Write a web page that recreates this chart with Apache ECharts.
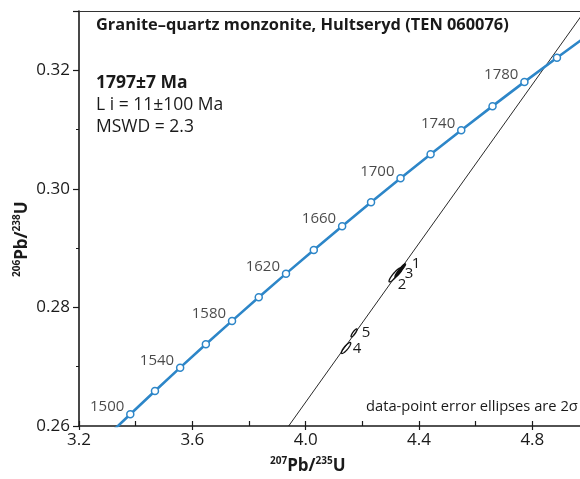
<!DOCTYPE html>
<html><head><meta charset="utf-8">
<script src="https://cdn.jsdelivr.net/npm/echarts@6/dist/echarts.min.js"></script>
<style>html,body{margin:0;padding:0;background:#fff;overflow:hidden}#c{width:600px;height:479px}</style>
</head><body><div id="c"></div>
<script>
// Concordia points (age in Ma, 207Pb/235U, 206Pb/238U)
const concAges = [1480,1500,1520,1540,1560,1580,1600,1620,1640,1660,1680,1700,1720,1740,1760,1780,1800,1820];
const concX = [3.2956,3.3810,3.4681,3.5570,3.6477,3.7401,3.8344,3.9306,4.0287,4.1287,4.2307,4.3348,4.4409,4.5491,4.6595,4.7721,4.8869,5.0040];
const concY = [0.25810,0.26199,0.26591,0.26984,0.27378,0.27773,0.28172,0.28570,0.28970,0.29371,0.29774,0.30178,0.30583,0.30988,0.31395,0.31804,0.32211,0.32621];
const labelledAges = [1500,1540,1580,1620,1660,1700,1740,1780];
// Discordia end points
const discX = [3.94, 5.00];
const discY = [0.2600, 0.3310];
// Error ellipses: id, centre x, centre y, half-range x, half-range y, correlation
const ellId = ['2','3','1','4','5'];
const ellX = [4.3154,4.3295,4.3401,4.1425,4.1707];
const ellY = [0.28549,0.28599,0.28667,0.27316,0.27570];
const ellA = [0.0212,0.0141,0.0124,0.0166,0.0106];
const ellB = [0.00118,0.00084,0.00068,0.00093,0.00068];
const ellR = [0.90,0.90,0.90,0.86,0.86];
// Axis ticks
const xTicks = [3.2,3.6,4.0,4.4,4.8];
const yTicks = [0.26,0.28,0.30,0.32];
const titleText = 'Granite\u2013quartz monzonite, Hultseryd (TEN 060076)';
const resultLines = ['1797\u00b17 Ma','L i = 11\u00b1100 Ma','MSWD = 2.3'];
const noteText = 'data-point error ellipses are 2\u03c3';

// styling (not data)
const ellFilled = [false,true,true,false,false];
const ellLabelOffset = [[7,10],[10,2],[14,-4],[11,1],[12,0]];
const FONT = '"Open Sans", "Noto Sans", sans-serif';
const BLUE = '#2d86c8';
const INK = '#1a1a1a';

const chart = echarts.init(document.getElementById('c'), null, {renderer:'canvas'});
const fmtX = v => xTicks.some(t=>Math.abs(t-v)<1e-6) ? v.toFixed(1) : '';
const fmtY = v => yTicks.some(t=>Math.abs(t-v)<1e-6) ? v.toFixed(2) : '';
const XMIN=3.2, XMAX=5.0, YMIN=0.26, YMAX=0.33;

const concData = concX.map((x,i)=>[x,concY[i]]);
const lblData = labelledAges.map(a=>{const i=concAges.indexOf(a); return {value:[concX[i],concY[i]], name:String(a)};});
const ellData = ellX.map((x,i)=>[x,ellY[i],ellA[i],ellB[i],ellR[i],i]);

chart.setOption({
  animation:false,
  grid:{left:79,top:11,right:11,bottom:53,containLabel:false},
  xAxis:[
    {type:'value',min:XMIN,max:XMAX,interval:0.4,position:'bottom',
     axisLine:{show:true,onZero:false,lineStyle:{color:INK,width:1.6}},
     axisTick:{show:true,inside:false,length:4,lineStyle:{color:INK,width:1.2}},
     axisLabel:{formatter:fmtX,fontFamily:FONT,fontSize:17,color:INK,margin:6},
     splitLine:{show:false}},
    {type:'value',min:XMIN,max:XMAX,interval:0.2,position:'bottom',gridIndex:0,
     axisLine:{show:false,onZero:false},
     axisTick:{show:true,inside:true,length:5,lineStyle:{color:INK,width:1.2}},
     axisLabel:{show:false},splitLine:{show:false}},
    {type:'value',min:XMIN,max:XMAX,position:'top',
     axisLine:{show:true,onZero:false,lineStyle:{color:'#333',width:1.2}},
     axisTick:{show:false},axisLabel:{show:false},splitLine:{show:false}}
  ],
  yAxis:[
    {type:'value',min:YMIN,max:YMAX,interval:0.02,
     axisLine:{show:true,onZero:false,lineStyle:{color:INK,width:1.6}},
     axisTick:{show:true,inside:false,length:6,lineStyle:{color:INK,width:1.2}},
     minorTick:{show:true,splitNumber:2,length:3,lineStyle:{color:INK,width:1}},
     axisLabel:{formatter:fmtY,fontFamily:FONT,fontSize:17,color:INK,margin:9},
     splitLine:{show:false},minorSplitLine:{show:false}}
  ],
  graphic:[
    {type:'text',left:96,top:17,style:{text:titleText,font:'bold 16.4px '+FONT,fill:INK}},
    {type:'text',left:96,top:74,style:{text:resultLines[0],font:'bold 17.5px '+FONT,fill:INK}},
    {type:'text',left:96,top:96,style:{text:resultLines[1],font:'17.5px '+FONT,fill:INK}},
    {type:'text',left:96,top:118,style:{text:resultLines[2],font:'17.5px '+FONT,fill:INK}},
    {type:'text',left:366,top:399,style:{text:noteText,font:'14.7px '+FONT,fill:INK}},
    {type:'text',x:270,y:456,style:{text:'{s|207}{b|Pb/}{s|235}{b|U}',fill:INK,
      rich:{s:{fontFamily:FONT,fontSize:10,fontWeight:'bold',verticalAlign:'top',lineHeight:20},
            b:{fontFamily:FONT,fontSize:17,fontWeight:'bold',lineHeight:20}}}},
    {type:'text',x:12,y:277,rotation:Math.PI/2,style:{text:'{s|206}{b|Pb/}{s|238}{b|U}',fill:INK,
      rich:{s:{fontFamily:FONT,fontSize:10,fontWeight:'bold',verticalAlign:'top',lineHeight:20},
            b:{fontFamily:FONT,fontSize:17,fontWeight:'bold',lineHeight:20}}}}
  ],
  series:[
    {type:'line',xAxisIndex:0,yAxisIndex:0,data:discX.map((x,i)=>[x,discY[i]]),showSymbol:false,
     lineStyle:{color:'#111',width:0.9},z:2,clip:true},
    {type:'custom',xAxisIndex:0,yAxisIndex:0,data:ellData,z:3,clip:true,
     renderItem:function(params,api){
       const cx=api.value(0),cy=api.value(1),a=api.value(2),b=api.value(3),r=api.value(4),k=api.value(5);
       const pts=[];
       for(let j=0;j<=60;j++){const t=j/60*2*Math.PI;
         pts.push(api.coord([cx+a*Math.cos(t), cy+b*(r*Math.cos(t)+Math.sqrt(1-r*r)*Math.sin(t))]));}
       const c=api.coord([cx,cy]); const off=ellLabelOffset[k];
       return {type:'group',children:[
         {type:'polygon',shape:{points:pts},style:{fill:ellFilled[k]?'#111':'rgba(0,0,0,0)',stroke:'#111',lineWidth:1.3}},
         {type:'text',x:c[0]+off[0],y:c[1]+off[1],style:{text:ellId[k],font:'15px '+FONT,fill:INK,align:'center',verticalAlign:'middle'}}
       ]};
     }},
    {type:'line',xAxisIndex:0,yAxisIndex:0,data:concData,symbol:'circle',symbolSize:7,showSymbol:true,
     itemStyle:{color:'#fff',borderColor:BLUE,borderWidth:1.5},lineStyle:{color:BLUE,width:2.6},z:4,clip:true},
    {type:'scatter',xAxisIndex:0,yAxisIndex:0,data:lblData,symbolSize:0,z:5,
     label:{show:true,formatter:p=>p.name,position:'left',distance:6,offset:[0,-7],fontFamily:FONT,fontSize:15,color:INK}}
  ]
});
</script></body></html>
